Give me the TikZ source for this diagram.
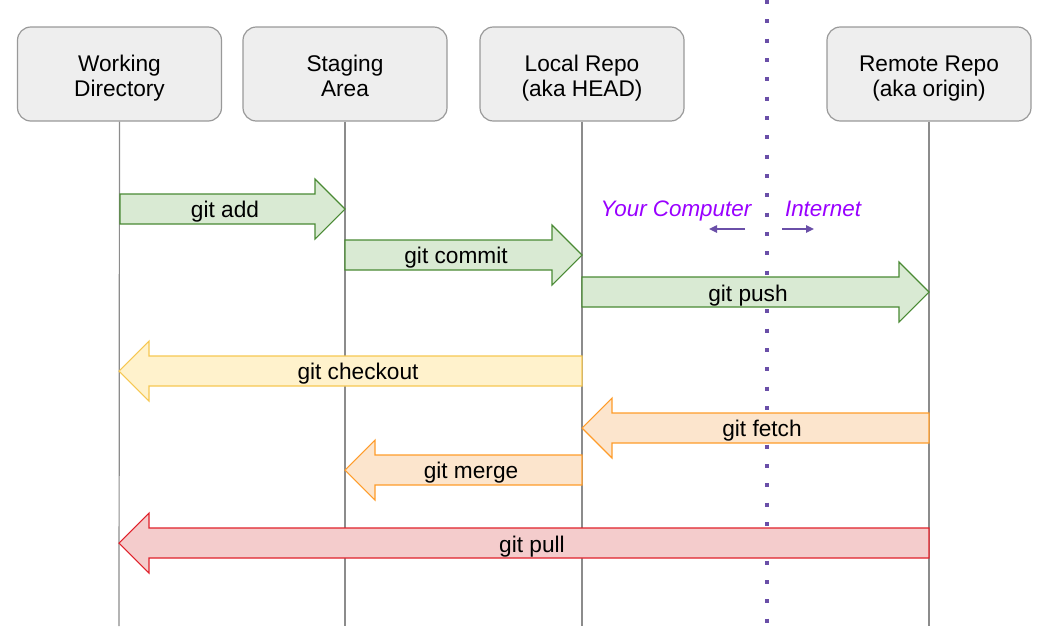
\documentclass[tikz,border=0pt]{standalone}
\usepackage{fontspec}
\setmainfont{Liberation Sans}
\usetikzlibrary{arrows.meta}
\definecolor{boxfill}{HTML}{EEEEEE}
\definecolor{boxdraw}{HTML}{999999}
\definecolor{lifeln}{HTML}{8C8C8C}
\definecolor{gfill}{HTML}{D9EAD3}\definecolor{gdraw}{HTML}{4A8A34}
\definecolor{yfill}{HTML}{FFF2CC}\definecolor{ydraw}{HTML}{F6C752}
\definecolor{ofill}{HTML}{FCE5CD}\definecolor{odraw}{HTML}{FF9C2A}
\definecolor{rfill}{HTML}{F4CCCC}\definecolor{rdraw}{HTML}{E0202A}
\definecolor{purptext}{HTML}{9900FF}
\definecolor{purpline}{HTML}{6A4FA8}
\newcommand\gitarrow[6]{% x1, x2 (tip), y, style, dir(+1/-1), name
  \pgfmathsetmacro\hb{#2-(#5)*30}
  \draw[#4] (#1,#3-15) -- (\hb,#3-15) -- (\hb,#3-30) -- (#2,#3) -- (\hb,#3+30) -- (\hb,#3+15) -- (#1,#3+15) -- cycle;
}
\begin{document}
\begin{tikzpicture}[x=0.75pt,y=-0.75pt,
  every node/.style={font=\fontsize{17}{20}\selectfont},
  header/.style={draw=boxdraw,fill=boxfill,line width=0.9pt,rounded corners=10pt,
    minimum width=153pt,minimum height=70.5pt,inner sep=0pt},
  htext/.style={anchor=base,inner sep=0pt},
  life/.style={draw=lifeln,line width=0.9pt},
  greenarr/.style={fill=gfill,draw=gdraw,line width=0.8pt,line join=miter},
  yellowarr/.style={fill=yfill,draw=ydraw,line width=0.8pt,line join=miter},
  orangearr/.style={fill=ofill,draw=odraw,line width=0.8pt,line join=miter},
  redarr/.style={fill=rfill,draw=rdraw,line width=0.8pt,line join=miter},
  lbl/.style={inner sep=0pt,anchor=base},
  side/.style={text=purptext,font=\fontsize{16.8}{20}\selectfont\itshape,inner sep=0pt,anchor=base},
  smallarr/.style={draw=purpline,line width=1.1pt,-{Triangle[length=6pt,width=5.5pt]}}
]
\useasboundingbox (0,0) rectangle (1050,626);

% header boxes
\node[header] (wd) at (119.5,74) {};
\node[header] (sa) at (345,74) {};
\node[header] (lr) at (582,74) {};
\node[header] (rr) at (929,74) {};
\node[htext] (wdt1) at (119.5,71) {Working};
\node[htext] (wdt2) at (119.5,96) {Directory};
\node[htext] (sat1) at (345,71) {Staging};
\node[htext] (sat2) at (345,96) {Area};
\node[htext] (lrt1) at (582,71) {Local Repo};
\node[htext] (lrt2) at (582,96) {(aka HEAD)};
\node[htext] (rrt1) at (929,71) {Remote Repo};
\node[htext] (rrt2) at (929,96) {(aka origin)};

% lifelines
\coordinate (wdb) at (119,626);
\coordinate (sab) at (345,626);
\coordinate (lrb) at (582,626);
\coordinate (rrb) at (929,626);
\draw[life] (wd.south) -- (wdb);
\draw[life] (sa.south) -- (sab);
\draw[life] (lr.south) -- (lrb);
\draw[life] (rr.south) -- (rrb);

% divider
\coordinate (divtop) at (767,0);
\coordinate (divbot) at (767,626);
\draw[purpline,line width=3pt,dash pattern=on 3pt off 11.5pt,dash phase=0pt] (divtop) -- (divbot);

% side labels
\node[side] (yc) at (676,216) {Your Computer};
\node[side] (inet) at (823,216) {Internet};
\coordinate (la1) at (745,229); \coordinate (la2) at (709,229);
\coordinate (ra1) at (782,229); \coordinate (ra2) at (814,229);
\draw[smallarr] (la1) -- (la2);
\draw[smallarr] (ra1) -- (ra2);

% block arrows
\gitarrow{120}{345}{209}{greenarr}{1}{a1}
\node[lbl] (add) at (225,217) {git add};
\gitarrow{345}{582}{255}{greenarr}{1}{a2}
\node[lbl] (commit) at (456,263) {git commit};
\gitarrow{582}{929}{292}{greenarr}{1}{a3}
\node[lbl] (push) at (748,301) {git push};
\gitarrow{582}{119}{371}{yellowarr}{-1}{a4}
\node[lbl] (checkout) at (358,379) {git checkout};
\gitarrow{929}{582}{428}{orangearr}{-1}{a5}
\node[lbl] (fetch) at (762,436) {git fetch};
\gitarrow{582}{345}{470}{orangearr}{-1}{a6}
\node[lbl] (merge) at (471,478) {git merge};
\gitarrow{929}{119}{543}{redarr}{-1}{a7}
\node[lbl] (pull) at (532,552) {git pull};
\end{tikzpicture}
\end{document}
